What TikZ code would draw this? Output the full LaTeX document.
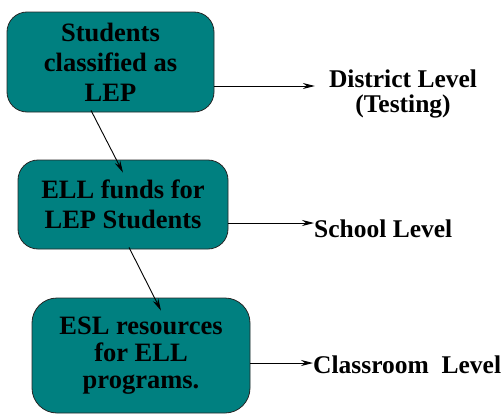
\documentclass[tikz,border=0pt]{standalone}
\usepackage{fontspec}
\setmainfont{Liberation Serif}
\usetikzlibrary{arrows.meta}
\definecolor{boxteal}{RGB}{0,128,128}
\tikzset{
  box/.style={draw=black!85, line width=0.8pt, fill=boxteal, rounded corners=20pt,
    align=center, inner sep=0pt, font=\fontsize{26.5}{30}\selectfont\bfseries},
  lvl/.style={inner sep=0pt, align=center, font=\fontsize{25.5}{25}\selectfont\bfseries},
  arr/.style={-{Stealth[length=12pt,width=6pt]}, line width=0.9pt},
}
\begin{document}
\begin{tikzpicture}[x=1pt,y=-1pt]
  \useasboundingbox (0,0) rectangle (504,415);

  \node[box, minimum width=207pt, minimum height=100pt] (stud) at (110.5,62) {Students\\classified as\\LEP}; %箱1
  \node[box, minimum width=210pt, minimum height=89pt] (fund) at (123,204.5) {ELL funds for\\LEP Students}; %箱2
  \node[box, minimum width=218pt, minimum height=115pt, rounded corners=25pt,
        font=\fontsize{26.5}{27}\selectfont\bfseries] (esl) at (141,355.5) {ESL resources\\for ELL\\programs.}; %箱3

  \node[lvl, anchor=north] (dist) at (403,70) {District Level\\(Testing)}; %右側
  \node[lvl, anchor=base west] (schl) at (314,237) {School Level};
  \node[lvl, anchor=base west] (clsr) at (313,373) {Classroom\ \ Level};

  \draw[arr] ([xshift=-19.5pt,yshift=2pt]stud.south) -- ([yshift=-13pt]fund.north); %下向き
  \draw[arr] ([xshift=6pt,yshift=2pt]fund.south) -- ([xshift=20pt,yshift=-13pt]esl.north);

  \coordinate (d1) at ([yshift=-24pt]stud.east); %横向き
  \coordinate (d2) at ([yshift=-18.5pt]fund.east);
  \coordinate (d3) at ([yshift=-7.5pt]esl.east);
  \draw[arr, shorten >=14pt] (d1) -- (d1 -| dist.west);
  \draw[arr] (d2) -- (d2 -| schl.west);
  \draw[arr] (d3) -- (d3 -| clsr.west);
\end{tikzpicture}
\end{document}
